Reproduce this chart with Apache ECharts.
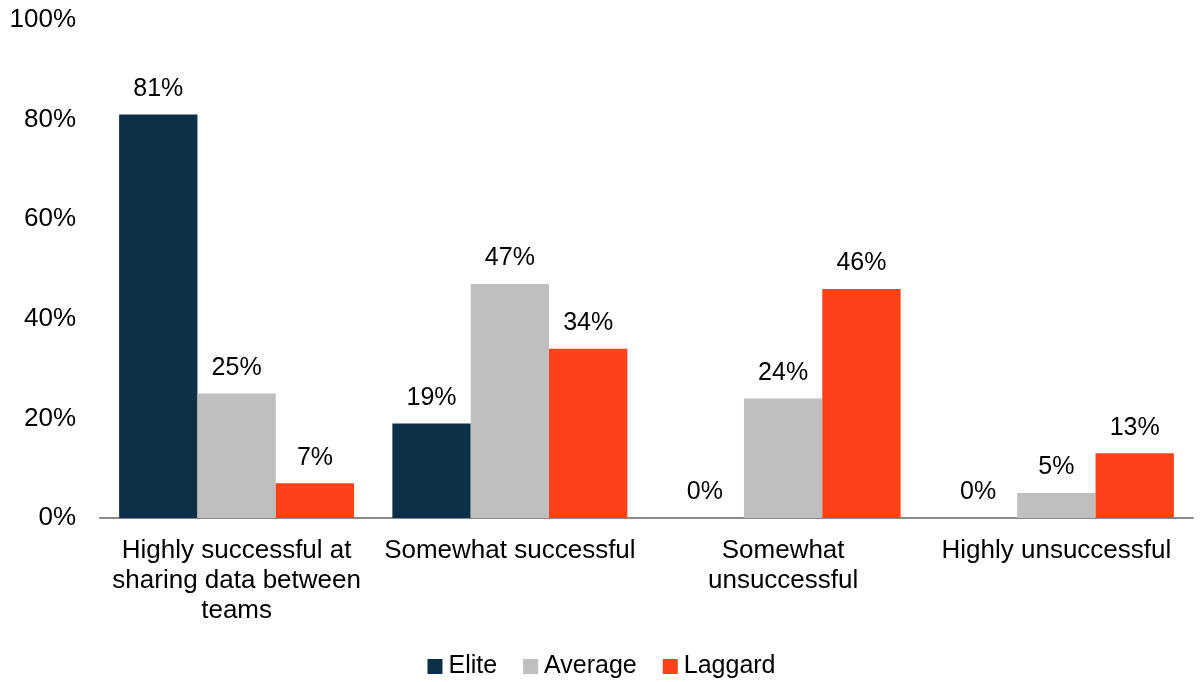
<!DOCTYPE html>
<html>
<head>
<meta charset="utf-8">
<script src="https://cdn.jsdelivr.net/npm/echarts@6/dist/echarts.min.js"></script>
<style>
html,body{margin:0;padding:0;background:#fff;}
#chart{width:1203px;height:682px;}
</style>
</head>
<body>
<div id="chart"></div>
<script>
const categories = [
  "Highly successful at\nsharing data between\nteams",
  "Somewhat successful",
  "Somewhat\nunsuccessful",
  "Highly unsuccessful"
];
const seriesNames = ["Elite", "Average", "Laggard"];
const elite = [81, 19, 0, 0];
const average = [25, 47, 24, 5];
const laggard = [7, 34, 46, 13];
const yTicks = [0, 20, 40, 60, 80, 100];
const colors = ["#0B3047", "#BFBFBF", "#FC4216"];

const FONT = "'Liberation Sans', Arial, sans-serif";
const chart = echarts.init(document.getElementById('chart'), null, {renderer: 'canvas'});
const mk = (name, data, color) => ({
  name: name,
  type: 'bar',
  data: data,
  itemStyle: {color: color},
  barGap: '0%',
  barCategoryGap: '14%',
  label: {
    show: true,
    position: 'top',
    distance: 13,
    formatter: p => p.value + '%',
    color: '#000',
    fontSize: 25,
    fontFamily: FONT
  }
});
chart.setOption({
  animation: false,
  backgroundColor: '#fff',
  textStyle: {fontFamily: FONT},
  grid: {left: 100, right: 10, top: 20, bottom: 164},
  legend: {
    bottom: -2,
    left: 'center',
    itemWidth: 15,
    itemHeight: 15,
    itemGap: 26,
    icon: 'rect',
    textStyle: {fontSize: 25, color: '#000', fontFamily: FONT, padding: [0, 0, 0, 1]},
    data: seriesNames
  },
  xAxis: {
    type: 'category',
    data: categories,
    axisLine: {show: true, lineStyle: {color: '#898989', width: 2}},
    axisTick: {show: false},
    axisLabel: {
      interval: 0,
      color: '#000',
      fontSize: 26,
      fontFamily: FONT,
      lineHeight: 30,
      margin: 18
    }
  },
  yAxis: {
    type: 'value',
    min: yTicks[0],
    max: yTicks[yTicks.length - 1],
    interval: 20,
    splitLine: {show: false},
    axisLine: {show: false},
    axisTick: {show: false},
    axisLabel: {
      formatter: v => v + '%',
      color: '#000',
      fontSize: 26,
      fontFamily: FONT,
      margin: 24
    }
  },
  series: [
    mk(seriesNames[0], elite, colors[0]),
    mk(seriesNames[1], average, colors[1]),
    mk(seriesNames[2], laggard, colors[2])
  ]
});
</script>
</body>
</html>
